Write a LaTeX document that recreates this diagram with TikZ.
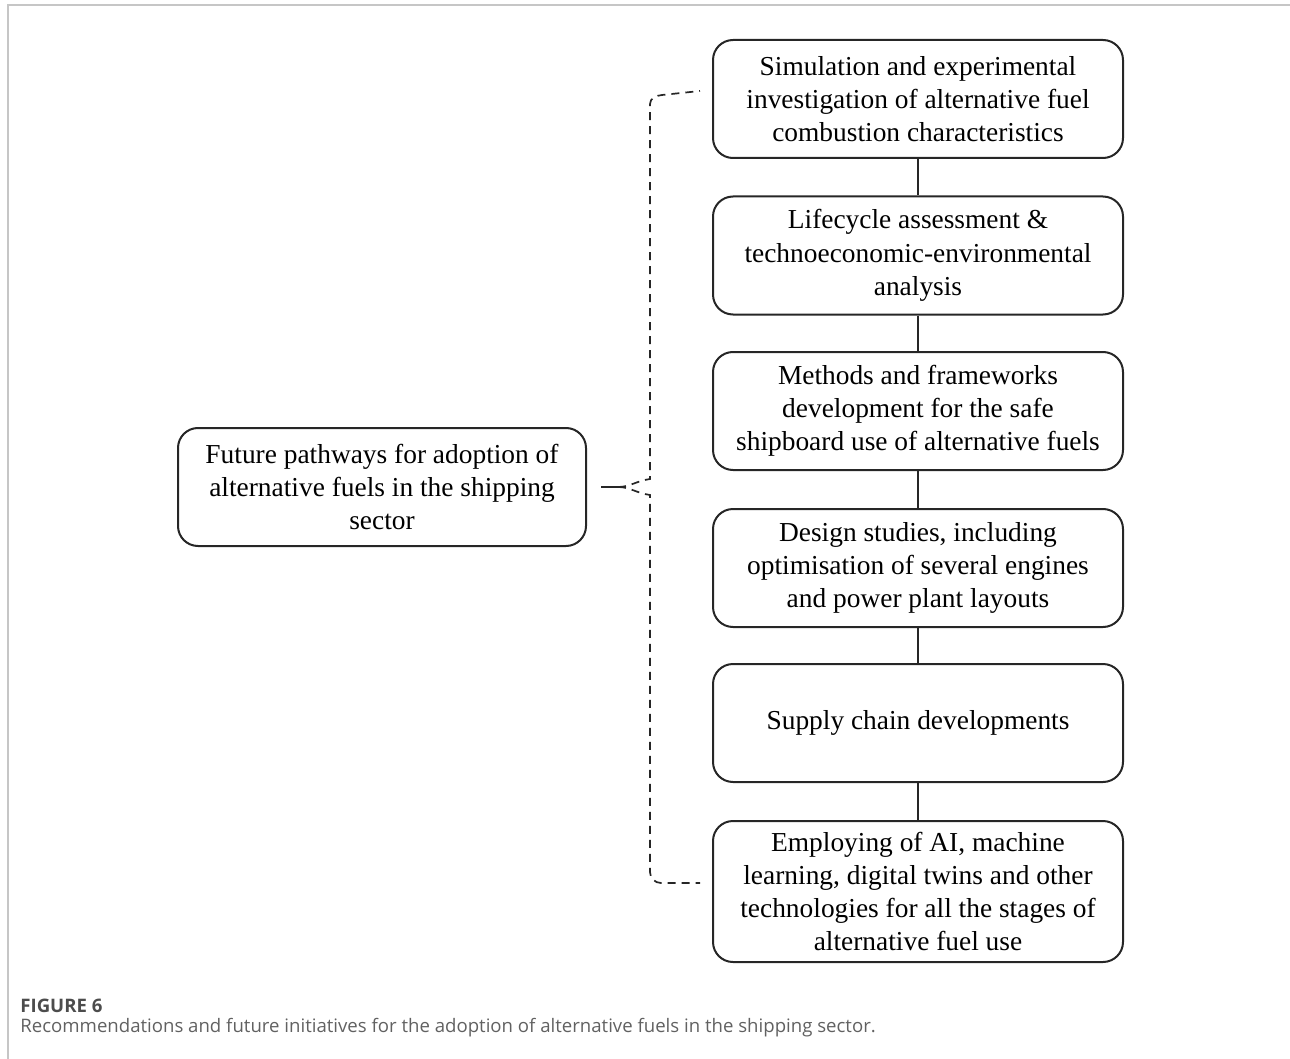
\documentclass[tikz,border=0pt]{standalone}
\usepackage{fontspec}
\setmainfont{Liberation Serif}
\newfontfamily\capfont{Open Sans}
\tikzset{
  pathbox/.style={draw=black!85,line width=1pt,rounded corners=10pt,minimum width=205pt,minimum height=59pt,align=center,inner sep=2pt,font=\fontsize{13.7}{16.6}\selectfont},
  linkline/.style={draw=black!85,line width=0.9pt},
  bracedash/.style={draw=black!85,line width=0.85pt,dash pattern=on 4pt off 3pt}
}
\begin{document}
\begin{tikzpicture}[x=0.5pt,y=-0.5pt]
  \useasboundingbox (0,0) rectangle (1290,1059);
  % frame of the figure
  \draw[gray!45,line width=1pt] (7.5,1059) -- (7.5,5.5) -- (1290,5.5);
  % stages on the right
  \node[pathbox] (sim) at (918,99) {Simulation and experimental\\investigation of alternative fuel\\combustion characteristics};
  \node[pathbox] (lca) at (918,255.5) {Lifecycle assessment \&\\technoeconomic-environmental\\analysis};
  \node[pathbox] (safe) at (918,411) {Methods and frameworks\\development for the safe\\shipboard use of alternative fuels};
  \node[pathbox] (design) at (918,568) {Design studies, including\\optimisation of several engines\\and power plant layouts};
  \node[pathbox] (supply) at (918,723) {Supply chain developments};
  \node[pathbox,minimum height=70.5pt] (ai) at (918,891.5) {Employing of AI, machine\\learning, digital twins and other\\technologies for all the stages of\\alternative fuel use};
  \foreach \a/\b in {sim/lca,lca/safe,safe/design,design/supply,supply/ai}
    \draw[linkline] (\a) -- (\b);
  % root on the left
  \node[pathbox,minimum width=204pt] (root) at (382,487) {Future pathways for adoption of\\alternative fuels in the shipping\\sector};
  % brace
  \coordinate (tip) at (601,487);
  \coordinate (topend) at (700,91);
  \coordinate (botend) at (700,883);
  \draw[linkline] (tip) -- (618,487);
  \draw[bracedash] (618,487) .. controls (630,487) and (636,481) .. (650,479) -- (650,104) to[out=90,in=185] (662,95) -- (topend);
  \draw[bracedash] (618,487) .. controls (630,487) and (636,493) .. (650,495) -- (650,872) to[out=270,in=180] (661,883) -- (botend);
  % caption
  \node[anchor=base west,inner sep=0pt,font=\capfont\fontsize{9.3}{11}\selectfont\bfseries,text=black!70] (fig) at (20,1012) {FIGURE 6};
  \node[anchor=base west,inner sep=0pt,font=\capfont\fontsize{9.3}{11}\selectfont,text=black!62] (cap) at (20,1032) {Recommendations and future initiatives for the adoption of alternative fuels in the shipping sector.};
\end{tikzpicture}
\end{document}
